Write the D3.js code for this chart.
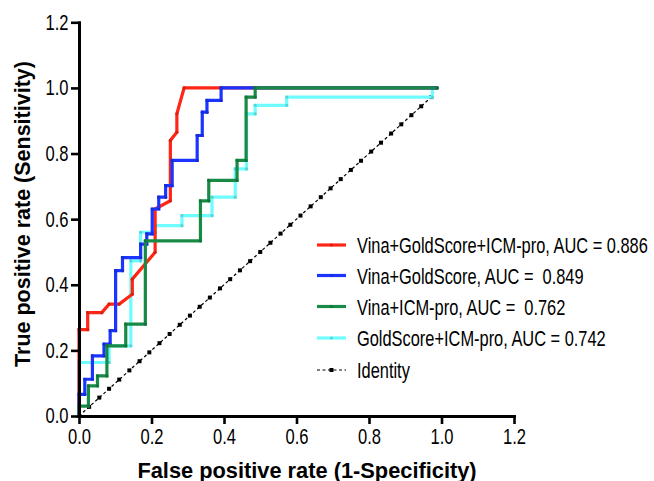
<!DOCTYPE html>
<html>
<head>
<meta charset="utf-8">
<script src="https://cdn.jsdelivr.net/npm/d3@7"></script>
<style>
  body { margin: 0; background: #fff; }
  svg text { font-family: "Liberation Sans", Arial, Helvetica, sans-serif; fill: #000; white-space: pre; }
</style>
</head>
<body>
<div id="chart"></div>
<script>
// ROC points [false positive rate, true positive rate]
const redPts = [[0,0],[0,0.263],[0.024,0.263],[0.024,0.315],[0.063,0.315],[0.083,0.341],[0.111,0.341],
  [0.147,0.371],[0.147,0.417],[0.210,0.499],[0.210,0.631],[0.252,0.656],[0.252,0.840],[0.270,0.865],
  [0.270,0.921],[0.290,1.0],[0.988,1.0]];

const bluePts = [[0,0],[0,0.066],[0.016,0.066],[0.016,0.112],[0.037,0.112],[0.037,0.183],[0.069,0.183],
  [0.069,0.219],[0.086,0.219],[0.086,0.260],[0.101,0.260],[0.101,0.443],[0.120,0.443],[0.120,0.483],
  [0.170,0.483],[0.170,0.524],[0.187,0.524],[0.187,0.555],[0.202,0.555],[0.202,0.631],[0.220,0.631],
  [0.220,0.667],[0.239,0.667],[0.239,0.702],[0.257,0.702],[0.257,0.779],[0.326,0.779],[0.326,0.855],
  [0.340,0.855],[0.340,0.926],[0.353,0.926],[0.353,0.962],[0.392,0.962],[0.392,1.0],[0.988,1.0]];

const greenPts = [[0,0],[0,0.030],[0.026,0.030],[0.026,0.092],[0.051,0.092],[0.051,0.122],[0.077,0.122],
  [0.077,0.214],[0.129,0.214],[0.129,0.280],[0.183,0.280],[0.183,0.534],[0.335,0.534],[0.335,0.656],
  [0.358,0.656],[0.358,0.718],[0.436,0.718],[0.436,0.779],[0.461,0.779],[0.461,0.972],[0.486,0.972],
  [0.486,1.0],[0.988,1.0]];

const cyanPts = [[0,0],[0,0.163],[0.083,0.163],[0.083,0.214],[0.143,0.214],[0.143,0.473],[0.170,0.473],
  [0.170,0.560],[0.211,0.560],[0.211,0.580],[0.284,0.580],[0.284,0.611],[0.367,0.611],[0.367,0.667],
  [0.431,0.667],[0.431,0.753],[0.462,0.753],[0.462,0.921],[0.486,0.921],[0.486,0.947],[0.573,0.947],
  [0.573,0.972],[0.975,0.972],[0.975,1.0],[0.988,1.0]];

const identityX = [0.000,0.028,0.056,0.083,0.111,0.139,0.167,0.194,0.222,0.250,0.278,0.306,0.333,0.361,
  0.389,0.417,0.444,0.472,0.500,0.528,0.556,0.583,0.611,0.639,0.667,0.694,0.722,0.750,0.778,0.806,
  0.833,0.861,0.889,0.917,0.944,0.972];

const xTicks = [0, 0.2, 0.4, 0.6, 0.8, 1.0, 1.2];
const yTicks = [0, 0.2, 0.4, 0.6, 0.8, 1.0, 1.2];

const seriesNames = ['Vina+GoldScore+ICM-pro, AUC = 0.886', 'Vina+GoldScore, AUC =  0.849',
  'Vina+ICM-pro, AUC =  0.762', 'GoldScore+ICM-pro, AUC = 0.742'];
const seriesColors = ['#ff2616', '#1b34ff', '#178a45', '#6dfcff'];
const identityName = 'Identity';

const xTitle = 'False positive rate (1-Specificity)';
const yTitle = 'True positive rate (Sensitivity)';

const W = 654, H = 481;
const tickNarrow = 0.77;   // the figure's labels use a narrow face

const svg = d3.select('#chart').append('svg').attr('width', W).attr('height', H);

const x = d3.scaleLinear().domain([0, 1.2]).range([79, 514]);
const y = d3.scaleLinear().domain([0, 1.2]).range([416, 22.3]);

// identity diagonal
const idPts = identityX.map(v => [v, v]);
svg.append('path')
    .datum(idPts)
    .attr('fill', 'none')
    .attr('stroke', '#000')
    .attr('stroke-width', 1.2)
    .attr('stroke-dasharray', '3,2.5')
    .attr('d', d3.line().x(d => x(d[0])).y(d => y(d[1])));
svg.append('g').selectAll('rect')
    .data(idPts)
    .join('rect')
    .attr('x', d => x(d[0]) - 2)
    .attr('y', d => y(d[1]) - 2)
    .attr('width', 4)
    .attr('height', 4)
    .attr('fill', '#000');

// curves, drawn so green ends up on top like the original
const curves = [
  {pts: cyanPts, col: seriesColors[3]},
  {pts: redPts, col: seriesColors[0]},
  {pts: bluePts, col: seriesColors[1]},
  {pts: greenPts, col: seriesColors[2]}
];
const line = d3.line().x(d => x(d[0])).y(d => y(d[1]));
curves.forEach(c => {
  const grp = svg.append('g');
  grp.append('path')
      .datum(c.pts)
      .attr('fill', 'none')
      .attr('stroke', c.col)
      .attr('stroke-width', 3.2)
      .attr('stroke-linejoin', 'miter')
      .attr('d', line);
  grp.selectAll('circle')
      .data(c.pts)
      .join('circle')
      .attr('cx', d => x(d[0]))
      .attr('cy', d => y(d[1]))
      .attr('r', 1.6)
      .attr('fill', d3.color(c.col).darker(0.5));
});

// axes
const fmt = d3.format('.1f');
const yAxis = svg.append('g')
    .attr('transform', `translate(${x(0)},0)`)
    .call(d3.axisLeft(y).tickValues(yTicks).tickFormat(fmt).tickSize(8).tickSizeOuter(0).tickPadding(3));
const xAxis = svg.append('g')
    .attr('transform', `translate(0,${y(0)})`)
    .call(d3.axisBottom(x).tickValues(xTicks).tickFormat(fmt).tickSize(8).tickSizeOuter(0).tickPadding(5));

[xAxis, yAxis].forEach(a => {
  a.select('.domain').attr('stroke', '#000').attr('stroke-width', 3).attr('stroke-linecap', 'square');
  a.selectAll('.tick line').attr('stroke', '#000').attr('stroke-width', 2.6);
  a.selectAll('.tick text').attr('font-size', 21.5).attr('fill', '#000');
});
yAxis.selectAll('.tick text')
    .attr('x', -10.5 / tickNarrow)
    .attr('transform', `scale(${tickNarrow},1)`);
xAxis.selectAll('.tick text')
    .attr('transform', `scale(${tickNarrow},1)`);

// axis titles
svg.append('text')
    .attr('x', 307)
    .attr('y', 477.5)
    .attr('text-anchor', 'middle')
    .attr('font-size', 21.8)
    .attr('font-weight', 'bold')
    .text(xTitle);
svg.append('text')
    .attr('transform', 'translate(30,214) rotate(-90)')
    .attr('text-anchor', 'middle')
    .attr('font-size', 21.5)
    .attr('font-weight', 'bold')
    .text(yTitle);

// legend
const legY = [245, 275.5, 306.5, 338, 370];
const legX = 357, legRight = 648;
const leg = svg.append('g');
const rows = seriesNames.concat([identityName]);
const legTexts = rows.map((name, i) => {
  const row = leg.append('g').attr('transform', `translate(0,${legY[i]})`);
  if (i < seriesNames.length) {
    row.append('line')
        .attr('x1', 317).attr('x2', 346)
        .attr('stroke', seriesColors[i]).attr('stroke-width', 3.2);
    row.append('circle')
        .attr('cx', 331.5).attr('r', 1.6)
        .attr('fill', d3.color(seriesColors[i]).darker(0.5));
  } else {
    row.append('line')
        .attr('x1', 317).attr('x2', 346)
        .attr('stroke', '#000').attr('stroke-width', 1.2)
        .attr('stroke-dasharray', '3,2.5');
    row.append('rect')
        .attr('x', 329.5).attr('y', -2).attr('width', 4).attr('height', 4)
        .attr('fill', '#000');
  }
  return row.append('text')
      .attr('y', 8)
      .attr('font-size', 22)
      .text(name);
});
// squeeze the legend text so the longest row ends where it does in the figure
const widest = d3.max(legTexts, t => t.node().getComputedTextLength());
const legNarrow = Math.min(1, (legRight - legX) / widest);
legTexts.forEach(t => t
    .attr('x', legX / legNarrow)
    .attr('transform', `scale(${legNarrow},1)`));
</script>
</body>
</html>
